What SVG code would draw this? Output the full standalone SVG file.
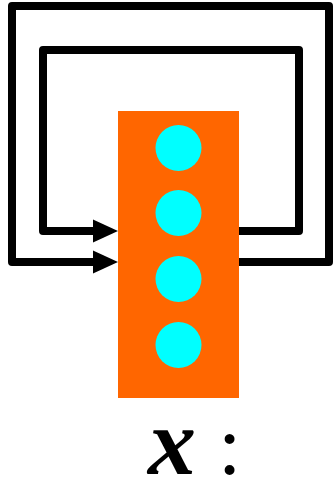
<svg xmlns="http://www.w3.org/2000/svg" width="333" height="479" viewBox="0 0 333 479">
<style>
.loop{fill:none;stroke:#000;stroke-width:8;stroke-linejoin:round;stroke-linecap:round}
.head{fill:#000}
.unit{fill:#00FFFF}
.lbl{font-family:"Liberation Serif",serif;font-size:96px;fill:#000}
</style>
<rect width="333" height="479" fill="#fff"/>
<g id="connectors">
<path class="loop" d="M239,231 H299 V50 H43 V231 H96"/>
<polygon class="head" points="93,219.5 118,231 93,242.5"/>
<path class="loop" d="M239,262 H329 V6 H12 V262 H96"/>
<polygon class="head" points="93,250.5 118,262 93,273.5"/>
</g>
<g id="layer">
<rect x="118" y="111" width="121" height="287" fill="#FF6600"/>
<circle class="unit" cx="178.5" cy="148" r="23"/>
<circle class="unit" cx="178.5" cy="213" r="23"/>
<circle class="unit" cx="178.5" cy="279" r="23"/>
<circle class="unit" cx="178.5" cy="345" r="23"/>
</g>
<g id="label">
<text class="lbl" x="148" y="474"><tspan font-style="italic" font-weight="bold">x</tspan><tspan x="218" font-size="84">:</tspan></text>
</g>
</svg>
